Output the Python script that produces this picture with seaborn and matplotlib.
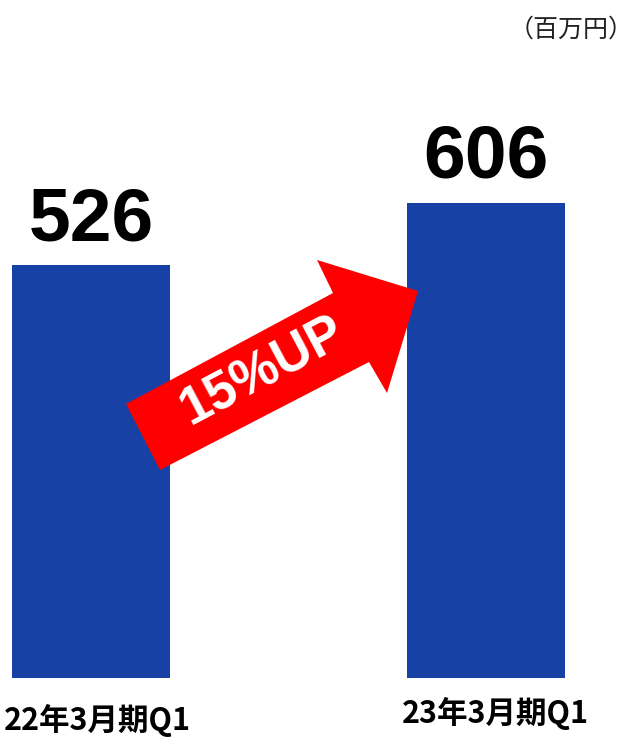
import matplotlib
matplotlib.use("Agg")
import matplotlib.pyplot as plt
from matplotlib.patches import Polygon
import seaborn as sns
import pandas as pd

categories = ["22年3月期Q1", "23年3月期Q1"]
values = [526, 606]
growth_label = "15%UP"
unit_label = "（百万円）"

sns.set_theme(style="white")
plt.rcParams['font.family'] = ['Noto Sans CJK JP', 'DejaVu Sans']

W, H = 637, 737
fig = plt.figure(figsize=(W / 100, H / 100), dpi=100)
ax = fig.add_axes([0, 0, 1, 1])

df = pd.DataFrame({"cat": categories, "val": values})
sns.barplot(data=df, x="cat", y="val", color="#1841A5", saturation=1,
            width=0.4, ax=ax, linewidth=0)

ax.set_xlim(-0.2304, 1.3823)
ax.set_ylim(-75.2, 864.3)
ax.axis("off")

# value labels
for i, v in enumerate(values):
    ax.text(i, v + 32, str(v), ha="center", va="baseline",
            fontsize=54, fontweight="bold", family=["Liberation Sans"],
            color="black")

# category labels
label_y = [-54.5, -45.5]
label_dx = [0.016, 0.025]
for i, c in enumerate(categories):
    ax.text(i + label_dx[i], label_y[i], c, ha="center", va="center",
            fontsize=22, fontweight="bold", color="black")

# unit label
fig.text(634 / W, 1 - 30 / H, unit_label, ha="right", va="center",
         fontsize=18, color="#222222")

# arrow (decoration between bars)
pts_px = [(126, 404), (333, 293), (317, 260), (418, 291),
          (387, 393), (369, 362), (160, 470)]
pts = [(x / W, 1 - y / H) for x, y in pts_px]
fig.patches.append(Polygon(pts, closed=True, facecolor="#FF0000",
                           edgecolor="none", transform=fig.transFigure,
                           zorder=5))
fig.text(263 / W, 1 - 371 / H, growth_label, ha="center", va="center",
         rotation=28, rotation_mode="anchor", fontsize=38,
         fontweight="bold", family=["Liberation Sans"], color="white",
         zorder=6)

fig.savefig("out.png", dpi=100)
